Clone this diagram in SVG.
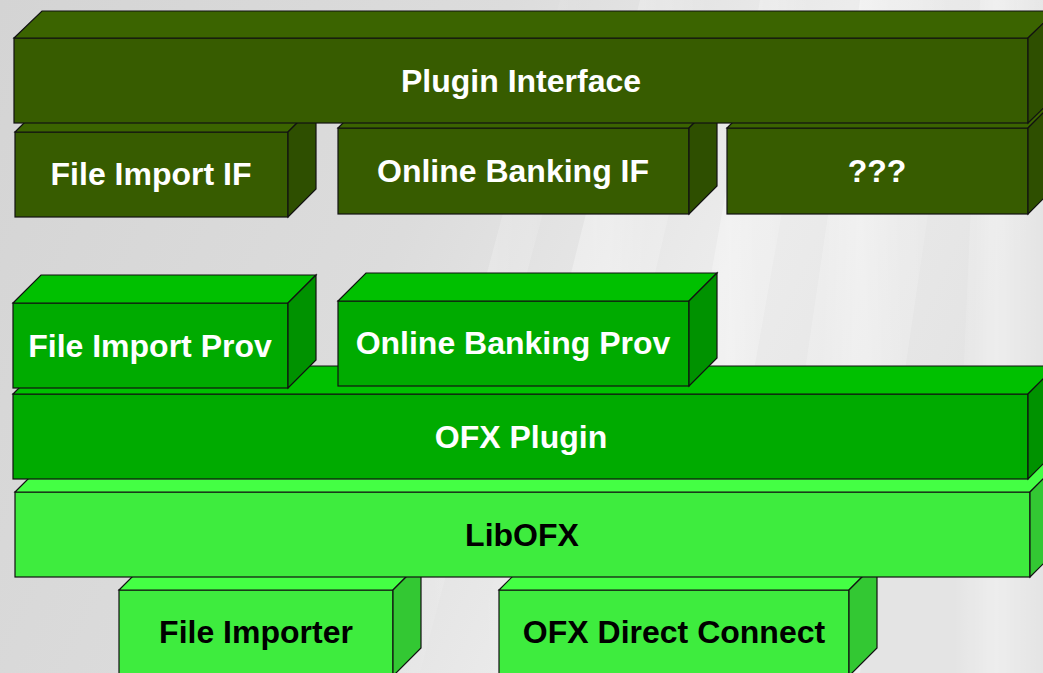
<svg xmlns="http://www.w3.org/2000/svg" width="1043" height="673" viewBox="0 0 1043 673">
<defs>
<linearGradient id="bg" x1="0" y1="0" x2="1" y2="0.3">
<stop offset="0" stop-color="#d4d4d4"/>
<stop offset="0.45" stop-color="#dcdcdc"/>
<stop offset="0.75" stop-color="#ececec"/>
<stop offset="1" stop-color="#e4e4e4"/>
</linearGradient>
<linearGradient id="streak" x1="0" y1="0" x2="1" y2="0">
<stop offset="0" stop-color="#ffffff" stop-opacity="0"/>
<stop offset="0.5" stop-color="#ffffff" stop-opacity="0.45"/>
<stop offset="1" stop-color="#ffffff" stop-opacity="0"/>
</linearGradient>
</defs>
<style>
.s{stroke:#111;stroke-width:1.2;stroke-linejoin:miter}
.d1f{fill:#375c00}.d1t{fill:#3b6400}.d1s{fill:#2e4f00}
.m1f{fill:#00ab00}.m1t{fill:#00c000}.m1s{fill:#009200}
.l1f{fill:#3eec3e}.l1t{fill:#44ff44}.l1s{fill:#33c833}
text{font-family:"Liberation Sans",Arial,sans-serif;font-weight:bold;font-size:32px;text-anchor:middle}
.w{fill:#ffffff}.k{fill:#000000}
</style>
<rect width="1043" height="673" fill="url(#bg)"/>
<g opacity="0.8">
<polygon points="640,0 720,0 560,673 470,673" fill="url(#streak)"/>
<polygon points="760,0 820,0 700,673 640,673" fill="url(#streak)"/>
<polygon points="860,0 960,0 860,673 760,673" fill="url(#streak)"/>
<polygon points="980,0 1043,0 1043,673 950,673" fill="url(#streak)"/>
<polygon points="560,0 600,0 420,673 380,673" fill="url(#streak)" opacity="0.6"/>
</g>

<g id="file-importer">
<rect class="l1f s" x="119" y="590" width="274" height="86"/>
<polygon class="l1t s" points="119,590 147,562 421,562 393,590"/>
<polygon class="l1s s" points="393,590 421,562 421,648 393,676"/>
<text class="k" x="256" y="643">File Importer</text>
</g>
<g id="ofx-direct-connect">
<rect class="l1f s" x="499" y="590" width="350" height="86"/>
<polygon class="l1t s" points="499,590 527,562 877,562 849,590"/>
<polygon class="l1s s" points="849,590 877,562 877,648 849,676"/>
<text class="k" x="674" y="643">OFX Direct Connect</text>
</g>
<g id="libofx">
<rect class="l1f s" x="15" y="492" width="1015" height="85"/>
<polygon class="l1t s" points="15,492 43,464 1058,464 1030,492"/>
<polygon class="l1s s" points="1030,492 1058,464 1058,549 1030,577"/>
<text class="k" x="522" y="546">LibOFX</text>
</g>
<g id="ofx-plugin">
<rect class="m1f s" x="13" y="394" width="1015" height="85"/>
<polygon class="m1t s" points="13,394 41,366 1056,366 1028,394"/>
<polygon class="m1s s" points="1028,394 1056,366 1056,451 1028,479"/>
<text class="w" x="521" y="448">OFX Plugin</text>
</g>
<g id="file-import-prov">
<rect class="m1f s" x="13" y="303" width="275" height="85"/>
<polygon class="m1t s" points="13,303 41,275 316,275 288,303"/>
<polygon class="m1s s" points="288,303 316,275 316,360 288,388"/>
<text class="w" x="150" y="357">File Import Prov</text>
</g>
<g id="online-banking-prov">
<rect class="m1f s" x="338" y="301" width="351" height="85"/>
<polygon class="m1t s" points="338,301 366,273 717,273 689,301"/>
<polygon class="m1s s" points="689,301 717,273 717,358 689,386"/>
<text class="w" x="513" y="354">Online Banking Prov</text>
</g>
<g id="file-import-if">
<rect class="d1f s" x="15" y="132" width="273" height="85"/>
<polygon class="d1t s" points="15,132 43,104 316,104 288,132"/>
<polygon class="d1s s" points="288,132 316,104 316,189 288,217"/>
<text class="w" x="151" y="185">File Import IF</text>
</g>
<g id="online-banking-if">
<rect class="d1f s" x="338" y="128" width="351" height="86"/>
<polygon class="d1t s" points="338,128 366,100 717,100 689,128"/>
<polygon class="d1s s" points="689,128 717,100 717,186 689,214"/>
<text class="w" x="513" y="182">Online Banking IF</text>
</g>
<g id="unknown-if">
<rect class="d1f s" x="727" y="128" width="301" height="86"/>
<polygon class="d1t s" points="727,128 755,100 1056,100 1028,128"/>
<polygon class="d1s s" points="1028,128 1056,100 1056,186 1028,214"/>
<text class="w" x="877" y="182">???</text>
</g>
<g id="plugin-interface">
<rect class="d1f s" x="14" y="38" width="1014" height="85"/>
<polygon class="d1t s" points="14,38 42,11 1056,11 1028,38"/>
<polygon class="d1s s" points="1028,38 1056,11 1056,96 1028,123"/>
<text class="w" x="521" y="92">Plugin Interface</text>
</g>
<g id="connectors"/>
</svg>
